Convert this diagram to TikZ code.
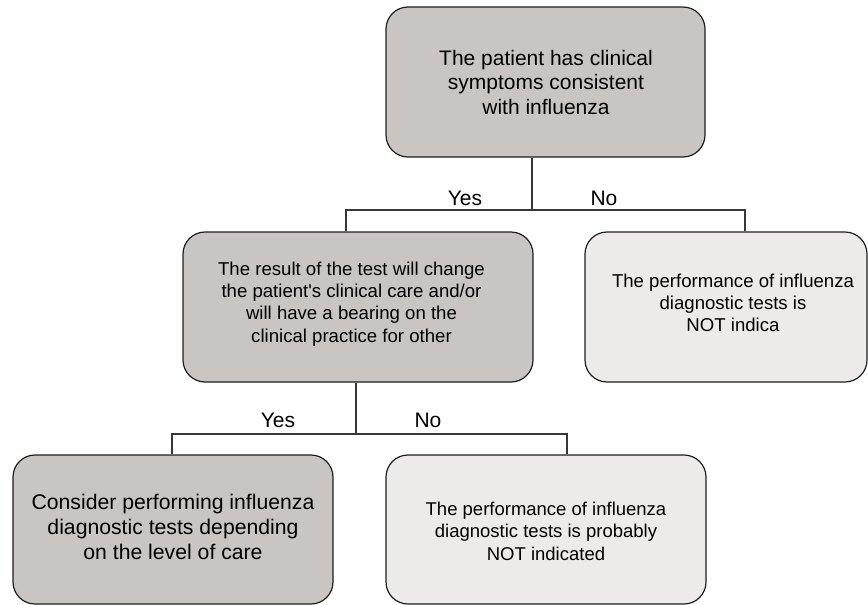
\documentclass[tikz,border=0pt]{standalone}
\usepackage{fontspec}
\setmainfont{Liberation Sans}
\definecolor{boxdark}{RGB}{200,197,194}
\definecolor{boxlight}{RGB}{236,235,233}
\definecolor{edgecol}{RGB}{30,30,30}
\definecolor{linecol}{RGB}{55,55,55}
\begin{document}
\begin{tikzpicture}[x=1pt,y=-1pt,
  boxbase/.style={draw=edgecol, line width=1.2pt, rounded corners=22pt, inner sep=0pt},
  darkbox/.style={boxbase, fill=boxdark},
  lightbox/.style={boxbase, fill=boxlight},
  bigtxt/.style={align=center, inner sep=0pt, font={\fontsize{21}{24.5}\selectfont}},
  smalltxt/.style={align=center, inner sep=0pt, font={\fontsize{18.6}{22.3}\selectfont}},
  lbl/.style={anchor=base, inner sep=0pt, font={\fontsize{21}{24}\selectfont}},
  conn/.style={draw=linecol, line width=1.2pt}]
\useasboundingbox (0,0) rectangle (868,605);
% boxes
\node[darkbox, minimum width=319pt, minimum height=150pt] (top) at (545.5,82) {};
\node[darkbox, minimum width=350pt, minimum height=150pt] (mid) at (358,307) {};
\node[lightbox, minimum width=282pt, minimum height=150pt] (right) at (726,307) {};
\node[darkbox, minimum width=320pt, minimum height=149pt] (bl) at (173,529.5) {};
\node[lightbox, minimum width=320pt, minimum height=149pt] (br) at (546,529.5) {};
% texts
\node[bigtxt] (toptxt) at (546,82) {The patient has clinical\\symptoms consistent\\with influenza};
\node[smalltxt] (midtxt) at (351.5,304) {The result of the test will change\\the patient\textquotesingle s clinical care and/or\\will have a bearing on the\\clinical practice for other};
\node[smalltxt, font={\fontsize{18.6}{22}\selectfont}] (righttxt) at (733,303) {The performance of influenza\\diagnostic tests is\\NOT indica};
\node[bigtxt, font={\fontsize{21.2}{25}\selectfont}] (bltxt) at (173,527) {Consider performing influenza\\diagnostic tests depending\\on the level of care};
\node[smalltxt, font={\fontsize{18.5}{22.5}\selectfont}] (brtxt) at (546,531) {The performance of influenza\\diagnostic tests is probably\\NOT indicated};
% junction coordinates
\coordinate (j1) at (532,210);
\coordinate (l1) at (346,210);
\coordinate (r1) at (745,210);
\coordinate (j2) at (356,434);
\coordinate (l2) at (172,434);
\coordinate (r2) at (567,434);
% connectors
\draw[conn] (j1 |- top.south) -- (j1);
\draw[conn] (l1 |- mid.north) -- (l1) -- (r1) -- (r1 |- right.north);
\draw[conn] (j2 |- mid.south) -- (j2);
\draw[conn] (l2 |- bl.north) -- (l2) -- (r2) -- (r2 |- br.north);
% labels
\node[lbl] (yes1) at (465,205) {Yes};
\node[lbl] (no1) at (604,205) {No};
\node[lbl] (yes2) at (278,427) {Yes};
\node[lbl] (no2) at (428,427) {No};
\end{tikzpicture}
\end{document}
